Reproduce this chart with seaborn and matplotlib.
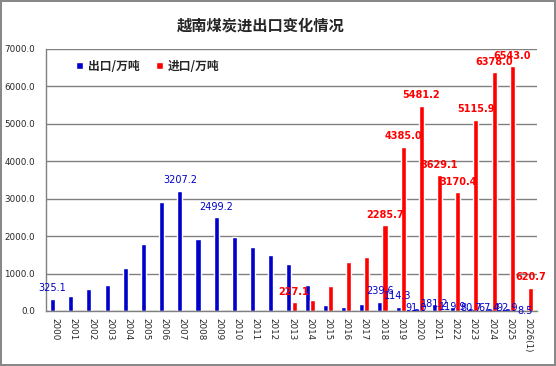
import numpy as np
import pandas as pd
import matplotlib
matplotlib.use("Agg")
import matplotlib.pyplot as plt
import seaborn as sns

# DATA
years = [str(y) for y in range(2000, 2026)] + ["2026(1)"]

export_vals = [325.1, 410, 590, 697, 1153, 1796, 2922, 3207.2, 1930, 2499.2,
               1984, 1716, 1501, 1260, 697, 160, 116, 196, 239.6, 114.3,
               91.0, 181.2, 119.9, 80.7, 67.4, 92.9, 8.5]

import_vals = [0, 0, 0, 0, 0, 0, 0, 0, 0, 0,
               0, 0, 0, 227.1, 300, 670, 1314, 1448, 2285.7, 4385.0,
               5481.2, 3629.1, 3170.4, 5115.9, 6378.0, 6543.0, 620.7]

export_labeled = ["2000", "2007", "2009", "2018", "2019", "2020", "2021",
                  "2022", "2023", "2024", "2025", "2026(1)"]
import_labeled = ["2013"] + years[18:]

series_names = ["出口/万吨", "进口/万吨"]
colors = ["#0000CC", "#FF0000"]

df = pd.DataFrame({
    "year": years * 2,
    "value": export_vals + import_vals,
    "series": [series_names[0]] * len(years) + [series_names[1]] * len(years),
})

sns.set_style("white")
plt.rcParams["font.family"] = ["DejaVu Sans", "Noto Sans CJK SC"]

fig = plt.figure(figsize=(5.56, 3.66), dpi=100)
fig.patch.set_edgecolor("#888888")
fig.patch.set_linewidth(1.5)
ax = fig.add_axes([46 / 556, 55 / 366, 491 / 556, 262 / 366])

sns.barplot(
    data=df, x="year", y="value", hue="series",
    palette=colors, width=0.56, ax=ax, saturation=1
)

ax.set_ylim(0, 7000)
ax.set_yticks(np.arange(0, 7001, 1000))
ax.set_yticklabels([f"{v:.1f}" for v in np.arange(0, 7001, 1000)], fontsize=6.3)
ax.yaxis.grid(True, color="#808080", linewidth=1)
ax.set_axisbelow(True)
ax.tick_params(axis="y", length=0, pad=8)
ax.tick_params(axis="x", length=0, pad=5)
ax.set_xticks(range(len(years)))
ax.set_xticklabels(years, rotation=-90, fontsize=6.3, va="top")
ax.set_xlabel("")
ax.set_ylabel("")

for side in ["top", "right"]:
    ax.spines[side].set_visible(False)
for side in ["left", "bottom"]:
    ax.spines[side].set_color("#808080")
    ax.spines[side].set_linewidth(1)

# data labels
containers = ax.containers
for k, (cont, vals, labeled, col) in enumerate(
        zip(containers, [export_vals, import_vals],
            [export_labeled, import_labeled], colors)):
    for i, (bar, v) in enumerate(zip(cont, vals)):
        yr = years[i]
        if yr not in labeled:
            continue
        cx = bar.get_x() + bar.get_width() / 2
        if k == 0 and i >= 20:
            # small export bars: label sits on the bar top
            ax.annotate(f"{v:.1f}", (cx, v), xytext=(0, 0),
                        textcoords="offset points", ha="center", va="center",
                        fontsize=7, color=col)
        else:
            ax.annotate(f"{v:.1f}", (cx, v), xytext=(0, 4),
                        textcoords="offset points", ha="center", va="bottom",
                        fontsize=7, color=col,
                        fontweight="semibold" if k == 1 else "normal")

leg = ax.legend(loc="upper left", bbox_to_anchor=(0.04, 1.0), ncol=2,
                frameon=False, handlelength=0.6, handleheight=0.6,
                handletextpad=0.4, columnspacing=1.4,
                prop={"family": ["Noto Sans CJK SC"], "size": 8.5,
                      "weight": "bold"})

fig.text(0.468, 0.93, "越南煤炭进出口变化情况", ha="center", va="center",
         fontsize=11, fontweight="bold", family=["Noto Sans CJK SC"])

fig.savefig("out.png", dpi=100, edgecolor=fig.get_edgecolor())
